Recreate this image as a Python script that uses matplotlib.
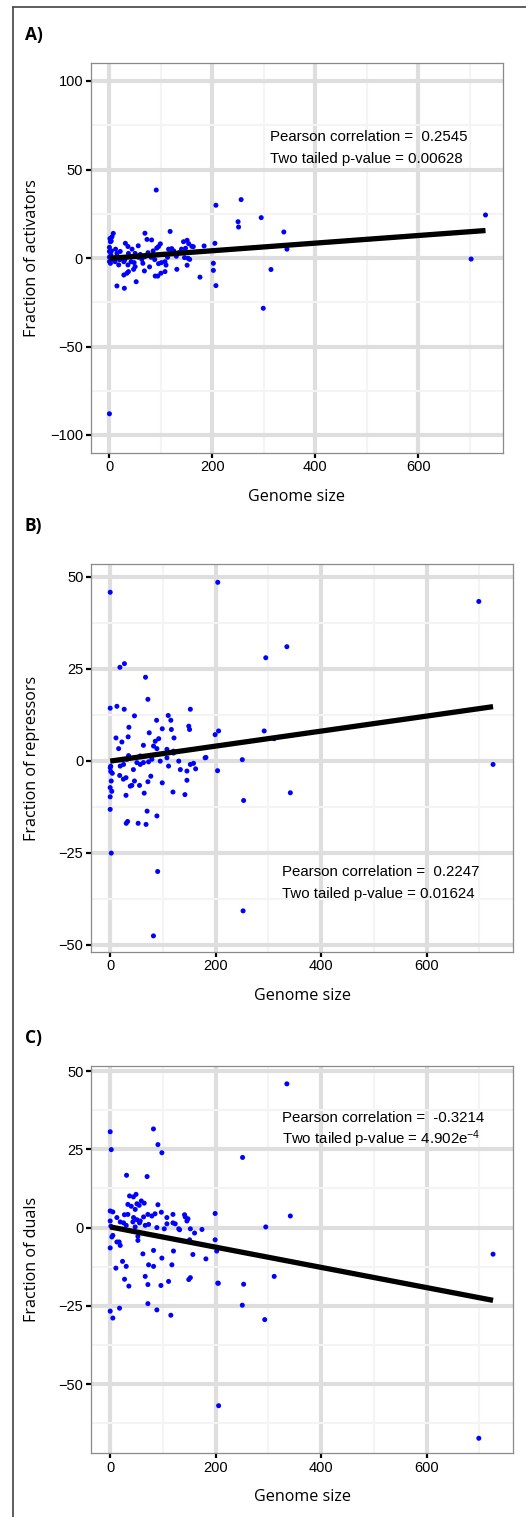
import numpy as np
import matplotlib
matplotlib.use('Agg')
import matplotlib.pyplot as plt
from matplotlib.lines import Line2D

plt.rcParams['font.family'] = ['Liberation Sans Narrow', 'DejaVu Sans Condensed', 'Liberation Sans', 'DejaVu Sans']
plt.rcParams['mathtext.default'] = 'regular'

# panel A - activators
act_x = [0, 91, 207, 256, 295, 250, 251, 339, 345, 314,
         299, 731, 703, 205, 184, 202, 202, 207, 176, 2,
         7.5, 0, 0, 3, 5, 14.6, 21, 31, 36, 44,
         37, 42, 50, 56, 69, 73, 82, 95.5, 99, 92,
         118, 115, 121, 121, 113, 144, 151, 154, 148, 160,
         146, 153, 156, 151, 131, 101, 108, 95.5, 88, 81,
         69, 63, 56, 48, 42, 36, 28, 18, 11, 8,
         68, 34, 37, 28, 50, 47, 89, 94, 100, 108,
         14.6, 29, 52, 3.5, 1, 5, 0, 2, 10, 15,
         25, 30, 60, 75, 85, 105, 125, 130, 135, 140,
         163, 0, 4, 12, 20, 65, 78, 110]
act_y = [-88, 38.4, 29.8, 33, 22.8, 20.5, 17.5, 14.7, 5, -6.5,
         -28.4, 24.3, -0.6, 8.3, 6.8, -3, -7, -15.6, -10.8, 9.2,
         13.9, 3.7, 0.5, 1.7, -0.8, 2.6, 3.7, 8.3, 6.5, 5,
         2.6, 0.7, 2.6, 6.9, 14, 10.5, 10.2, 6.5, 8, 5.6,
         15, 5, 5.3, 2.6, 0.4, 9.2, 10, 8.1, 5.5, 6.6,
         0.2, -0.2, -0.8, -4.1, -6.4, -2.6, -2.1, -3.2, -0.9, 0.4,
         0.8, -0.8, 0.4, -2.6, -2.1, -3.9, -2.1, -3.9, -2.1, -0.8,
         -7.3, -8.6, -7.7, -9.6, -4.9, -6.4, -10.2, -10.2, -8.6, -7.7,
         -15.8, -17.1, -13.4, 9.6, 11, 12, -2, -3, 0, 1,
         0, -1, 2, 3, 4, 2, 4, 1, 3, 5,
         6.4, 6, 4, 5, -1, -3, -5, -4]

# panel B - repressors
rep_x = [0, 204, 18.4, 27, 67, 71.5, 0, 12.7, 26.6, 46,
         152, 110, 115, 88, 35.5, 98.7, 116, 149, 150.5, 74,
         199, 205.5, 295, 335, 292, 11, 34, 92, 121, 699,
         726, 311, 341.6, 253, 250.5, 252, 203.6, 181.6, 2, 90,
         82, 30.4, 33, 53, 68, 70, 88.6, 0, 0, 3,
         0, 2, 30, 64.5, 119, 141.7, 145.5, 98.7, 77, 71.5,
         55.6, 41, 38, 46, 30, 25, 18, 4, 1, 0,
         1, 19, 25.3, 31.6, 44, 50.6, 57, 63, 72.7, 79,
         94.9, 107.6, 110.7, 120, 130, 133, 145.5, 152, 158, 162,
         180, 63, 82.2, 85.4, 88.5, 107.6, 120, 34.8, 16, 22.2,
         57]
rep_y = [45.8, 48.5, 25.4, 26.4, 22.7, 16.7, 14.3, 14.8, 14, 12.2,
         14, 12.3, 11, 11, 9.1, 8.7, 8.5, 9.4, 8.5, 7.6,
         7.1, 8.1, 28, 31, 8.1, 6.2, 6.5, 6, 6.2, 43.3,
         -1, 6, -8.7, -10.8, 0.3, -40.8, -2.7, 0.9, -25.1, -30.1,
         -47.6, -17, -16.5, -17, -17.3, -13.7, -15, -13.2, -9.8, -8.3,
         -7.3, -5.5, -9.4, -8.8, -8.5, -9.2, -5.3, -6, -4.2, -5.7,
         -6.7, -6.7, -6.9, -5.5, -4.6, -5, -4, -3.4, -2.9, -1.9,
         -1.5, -1.45, -1, 0.4, -2.4, -0.5, -1, -0.5, -0.3, 0.4,
         -0.1, 0.8, -1.45, 2.1, -0.1, -2.4, -2.8, -1, -0.7, -2.2,
         0.8, 4.2, 4, 5.3, 3.3, 3.1, 2.6, 1.4, 3.3, 5.1,
         1.3]

# panel C - duals
dual_x = [335, 0, 2, 82, 90.5, 98, 251, 31, 70, 36.7,
          44, 49, 33.5, 40, 50.7, 59, 64.5, 55, 47.4, 90.5,
          0, 5, 27, 71.5, 79, 85, 97, 107.5, 119, 141,
          147.5, 199, 341.6, 295, 174, 199, 202, 181.5, 205, 253,
          311, 250.5, 293, 205.6, 699, 726, 44.3, 50.6, 57, 63.3,
          33.5, 55.6, 43, 25.3, 19, 12.7, 0, 1.3, 30.4, 47.4,
          66.4, 72.8, 88.5, 102.5, 107.6, 119, 123.3, 130, 131.6, 152,
          160, 145.5, 142.3, 3.2, 5, 12.7, 17, 19, 0, 52.5,
          52.5, 62, 82.2, 120, 98, 156.8, 23.4, 10.8, 30.4, 72.8,
          82.2, 117, 66.4, 27.2, 35.4, 71.5, 96.2, 110.7, 149, 152,
          204, 0, 5, 17.7, 71.5, 88.5, 115, 150.6]
dual_y = [45.9, 30.6, 24.9, 31.5, 26.5, 23.9, 22.4, 16.7, 16.3, 10.1,
          9.8, 10.6, 7.4, 6.8, 7.6, 8.5, 7.8, 7.1, 5.8, 7.3,
          5.3, 5, 4.1, 4.2, 3.7, 4.4, 4.9, 3.2, 4.2, 4.1,
          2.8, 4.5, 3.7, 0.2, -0.6, -3.9, -7.5, -10, -17.8, -18.1,
          -15.6, -24.8, -29.4, -56.9, -67.3, -8.5, 3.2, 2.5, 2.1, 3.4,
          4.2, 1.5, 1.8, 1.5, 1.8, 3.2, 2.1, 0.4, 0.7, 0.2,
          0.7, 1, 0, -0.4, 1.2, 1.5, 1.2, -0.4, -0.7, -0.4,
          -1.75, 2.1, 3.4, -3, -2.5, -4.6, -4.6, -5.7, -6.5, -4.1,
          -2.8, -8.4, -7.3, -7.5, -9.75, -8.6, -10.8, -12.96, -12.4, -11.9,
          -12.4, -11.9, -15.6, -16.5, -18.7, -18.2, -18.5, -17.2, -16.6, -16,
          -17.75, -26.7, -28.9, -25.75, -24.3, -26.3, -28, -3.9]

# fitted lines (intercept, slope)
act_fit = (-0.2, 0.0215)
rep_fit = (-0.1, 0.0204)
dual_fit = (0.2, -0.0323)

act_text = ['Pearson correlation =  0.2545', 'Two tailed p-value = 0.00628']
rep_text = ['Pearson correlation =  0.2247', 'Two tailed p-value = 0.01624']
dual_text = ['Pearson correlation =  -0.3214', 'Two tailed p-value = 4.902e$^{-4}$']

x_ticks = [0, 200, 400, 600]
x_minor = [100, 300, 500, 700]

W, H = 526, 1517
fig = plt.figure(figsize=(W / 100, H / 100), dpi=100)


def px_box(left, top, right, bottom):
    return [left / W, 1 - bottom / H, (right - left) / W, (bottom - top) / H]


def draw_panel(box, x, y, fit, ylim, yticks, yminor, ylabel, texts, tpos, letter, letter_y):
    ax = fig.add_axes(px_box(*box))
    ax.set_xlim(-36.4, 764.4)
    ax.set_ylim(ylim)
    ax.set_xticks(x_ticks)
    ax.set_xticks(x_minor, minor=True)
    ax.set_yticks(yticks)
    ax.set_yticks(yminor, minor=True)
    ax.grid(which='major', color='#dedede', lw=3)
    ax.grid(which='minor', color='#f4f4f4', lw=1.5)
    ax.set_axisbelow(True)
    ax.tick_params(which='minor', length=0)
    ax.tick_params(which='major', length=3.5, width=1.6, color='black', labelsize=10.5, pad=2)
    for s in ax.spines.values():
        s.set_color('#8a8a8a')
        s.set_linewidth(0.9)

    ax.scatter(x, y, s=13, color='blue', edgecolors='none', zorder=3)
    xs = np.array([min(x), max(x)])
    ax.plot(xs, fit[0] + fit[1] * xs, color='black', lw=3.8, solid_capstyle='butt', zorder=4)

    ax.text(tpos[0], tpos[1], texts[0], transform=ax.transAxes, fontsize=10.8, va='center', ha='left')
    ax.text(tpos[0], tpos[2], texts[1], transform=ax.transAxes, fontsize=10.8, va='center', ha='left')

    left, top, right, bottom = box
    cx = (left + right) / 2
    fig.text(cx / W, 1 - (bottom + 44) / H, 'Genome size', family='Open Sans',
             fontsize=11.6, ha='center', va='center')
    fig.text(32 / W, 1 - ((top + bottom) / 2) / H, ylabel, family='Open Sans',
             fontsize=11.6, ha='center', va='center', rotation=90)
    fig.text(25 / W, 1 - letter_y / H, letter, family='Open Sans', fontweight='bold',
             fontsize=12.5, ha='left', va='center')
    return ax


draw_panel((90.7, 63.3, 502.7, 452.7), act_x, act_y, act_fit, (-110, 110),
           [-100, -50, 0, 50, 100], [-75, -25, 25, 75], 'Fraction of activators',
           act_text, (0.435, 0.810, 0.753), 'A)', 35)
draw_panel((91, 564.3, 513.3, 951.7), rep_x, rep_y, rep_fit, (-51.9, 53.4),
           [-50, -25, 0, 25, 50], [-37.5, -12.5, 12.5, 37.5], 'Fraction of repressors',
           rep_text, (0.4516, 0.205, 0.149), 'B)', 526)
draw_panel((91, 1065.7, 513.3, 1453.3), dual_x, dual_y, dual_fit, (-72.1, 51.7),
           [-50, -25, 0, 25, 50], [-62.5, -37.5, -12.5, 12.5, 37.5], 'Fraction of duals',
           dual_text, (0.4516, 0.866, 0.810), 'C)', 1038)

# outer frame (left and top edges)
fig.add_artist(Line2D([12.5 / W, 12.5 / W], [0, 1 - 7 / H], color='#505050', lw=1.3))
fig.add_artist(Line2D([12.5 / W, 1], [1 - 7 / H, 1 - 7 / H], color='#505050', lw=1.3))

fig.savefig('out.png', dpi=100)
